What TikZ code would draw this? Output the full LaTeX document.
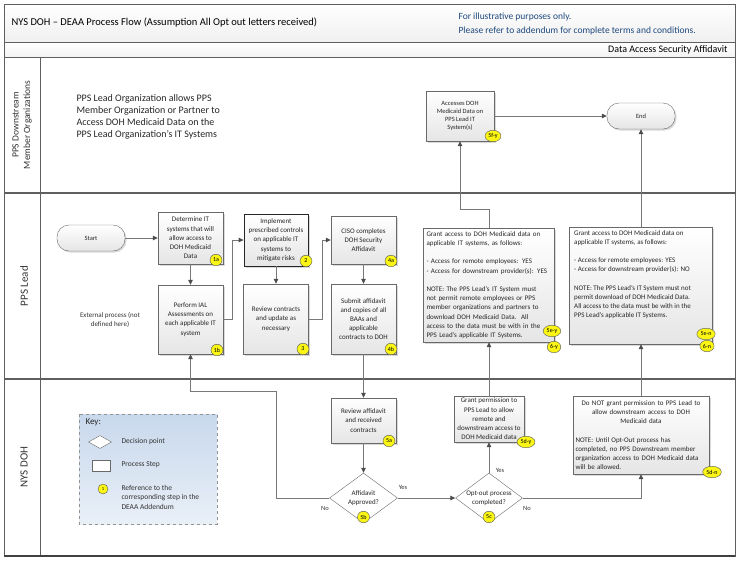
\documentclass[tikz,border=0pt]{standalone}
\usepackage{fontspec}
\setmainfont{Carlito}
\usetikzlibrary{shapes.geometric, arrows.meta, positioning, calc, shadows}
\definecolor{lanegray}{RGB}{95, 95, 95}
\definecolor{linegray}{RGB}{120, 120, 120}
\definecolor{boxgray}{RGB}{105, 105, 105}
\definecolor{notenavy}{RGB}{31, 73, 125}
\definecolor{keyblue}{RGB}{200, 216, 236}
\definecolor{badgeyellow}{RGB}{250, 245, 20}
\newcommand{\boxfont}{\fontsize{7}{9.2}\selectfont}
\tikzset{
  >=Triangle,
  flow/.style={-{Triangle[length=5pt, width=4.5pt, color=black!70]}, linegray, line width=0.8pt},
  procbox/.style={rectangle, draw=boxgray, top color=white, bottom color=gray!20, drop shadow={shadow xshift=1.5pt, shadow yshift=-1.5pt, opacity=0.3}, align=center, font=\boxfont, inner sep=1pt, text=black!85},
  notebox/.style={procbox, align=left, inner sep=3pt},
  terminal/.style={procbox, rounded corners=12pt, minimum width=68pt, minimum height=26pt, font=\fontsize{6.5}{8}\selectfont},
  decision/.style={diamond, draw=boxgray, fill=white, inner sep=0pt, minimum width=68pt, minimum height=50pt},
  decisiontext/.style={align=center, font=\boxfont, text=black!85},
  stepbadge/.style={ellipse, draw=black!65, fill=badgeyellow, inner xsep=1pt, inner ysep=0.3pt, minimum width=12pt, minimum height=11.5pt, font=\fontsize{6}{6}\selectfont},
  branch/.style={font=\fontsize{6.5}{8}\selectfont, text=black!80},
  lanelabel/.style={rotate=90, align=center, font=\fontsize{9.5}{11.5}\selectfont, text=black!80},
  keytext/.style={anchor=west, align=left, font=\fontsize{7.5}{9.5}\selectfont, text=black!80}
}
\begin{document}
\begin{tikzpicture}[x=1pt, y=-1pt]
    \useasboundingbox (0,0) rectangle (739,563);

    % Header bars
    \draw[lanegray, top color=white, bottom color=gray!12] (4,4) rectangle (735,42);
    \node[anchor=west, font=\fontsize{10.5}{12}\selectfont] (title) at (8,23) {NYS DOH – DEAA Process Flow (Assumption All Opt out letters received)};
    \node[anchor=west, align=left, text=notenavy, font=\fontsize{9.5}{14}\selectfont] (disclaimer) at (455,24) {For illustrative purposes only.\\Please refer to addendum for complete terms and conditions.};
    \draw[lanegray, top color=white, bottom color=gray!10] (4,42) rectangle (735,57);
    \node[anchor=east, font=\fontsize{10}{12}\selectfont] (formname) at (731,49.5) {Data Access Security Affidavit};

    % Swimlanes
    \draw[lanegray, line width=0.8pt] (4,57) rectangle (735,556);
    \draw[lanegray, line width=1.2pt] (4,193) -- (735,193);
    \draw[lanegray, line width=1.2pt] (4,379) -- (735,379);
    \draw[lanegray, line width=0.8pt] (40,57) -- (40,556);
    \draw[black!75, line width=2.5pt] (4,556) -- (735,556);
    \node[lanelabel] (lanedown) at (22,125) {PPS Downstream\\Member Organizations};
    \node[lanelabel, font=\fontsize{11}{13}\selectfont] (lanelead) at (24,286) {PPS Lead};
    \node[lanelabel, font=\fontsize{11}{13}\selectfont] (lanedoh) at (24,467) {NYS DOH};

    % PPS Downstream lane
    \node[anchor=west, align=left, font=\fontsize{10}{12}\selectfont, text=black!85] (lanenote) at (73,117) {PPS Lead Organization allows PPS\\Member Organization or Partner to\\Access DOH Medicaid Data on the\\PPS Lead Organization’s IT Systems};
    \node[procbox, minimum width=68pt, minimum height=50pt, font=\fontsize{6.5}{8}\selectfont] (accessdata) at (460,116) {Accesses DOH\\Medicaid Data on\\PPS Lead IT\\System(s)};
    \node[terminal] (endnode) at (641,116) {End};

    % PPS Lead lane
    \node[terminal] (start) at (91,238) {Start};
    \node[procbox, minimum width=65pt, minimum height=52pt] (determine) at (190.5,238) {Determine IT\\systems that will\\allow access to\\DOH Medicaid\\Data};
    \node[procbox, minimum width=65pt, minimum height=69pt] (perform) at (190.5,319.5) {Perform IAL\\Assessments on\\each applicable IT\\system};
    \node[branch, align=center, font=\boxfont] (external) at (110,320) {External process (not\\defined here)};
    \node[procbox, minimum width=64pt, minimum height=52pt, draw=black!85, line width=0.8pt] (implement) at (276,240) {Implement\\prescribed controls\\on applicable IT\\systems to\\mitigate risks};
    \node[procbox, minimum width=65pt, minimum height=70pt] (reviewctr) at (276,319) {Review contracts\\and update as\\necessary};
    \node[procbox, minimum width=65pt, minimum height=48pt] (ciso) at (363.5,240) {CISO completes\\DOH Security\\Affidavit};
    \node[procbox, minimum width=65pt, minimum height=70pt] (submit) at (363.5,319) {Submit affidavit\\and copies of all\\BAAs and\\applicable\\contracts to DOH};
    \node[notebox, minimum width=131pt, minimum height=114pt, text width=125pt] (grantyes) at (489,285) {Grant access to DOH Medicaid data on\\applicable IT systems, as follows:\\[9.2pt]- Access for remote employees: YES\\- Access for downstream provider(s): YES\\[9.2pt]NOTE: The PPS Lead’s IT System must\\not permit remote employees or PPS\\member organizations and partners to\\download DOH Medicaid Data.~~All\\access to the data must be with in the\\PPS Lead’s applicable IT Systems.};
    \node[procbox, minimum width=143pt, minimum height=117pt] (grantno) at (641,285.5) {};
    \node[anchor=north west, align=left, font=\boxfont, text=black!85, inner sep=0pt] (grantnotext) at (574,230) {Grant access to DOH Medicaid data on\\applicable IT systems, as follows:\\[9.2pt]- Access for remote employees: YES\\- Access for downstream provider(s): NO\\[9.2pt]NOTE: The PPS Lead’s IT System must not\\permit download of DOH Medicaid Data.\\All access to the data must be with in the\\PPS Lead’s applicable IT Systems.};

    % NYS DOH lane
    \node[procbox, minimum width=65pt, minimum height=45pt] (reviewaff) at (363.5,420.5) {Review affidavit\\and received\\contracts};
    \node[decision, label={[decisiontext]center:{Affidavit\\Approved?}}] (approved) at (363.5,498) {};
    \node[decision, minimum width=67pt, label={[decisiontext]center:{Opt-out process\\completed?}}] (optout) at (489,498) {};
    \node[procbox, minimum width=70pt, minimum height=46pt, inner sep=0pt] (grantperm) at (489,419) {Grant permission to\\PPS Lead to allow\\remote and\\downstream access to\\DOH Medicaid data};
    \node[procbox, minimum width=136pt, minimum height=78pt, align=left, text width=131pt, inner sep=2pt] (nogrant) at (641,435) {{\centering Do NOT grant permission to PPS Lead to\\allow downstream access to DOH\\Medicaid data\par}\vspace{9.2pt}\raggedright NOTE: Until Opt-Out process has\\completed, no PPS Downstream member\\organization access to DOH Medicaid data\\will be allowed.};

    % Key
    \draw[draw=gray!85, dashed, top color=keyblue, bottom color=keyblue!40!white] (79,414) rectangle (217,524);
    \node[anchor=west, font=\fontsize{9}{11}\selectfont, text=black!85] (keytitle) at (82,422) {Key:};
    \node[diamond, draw=boxgray, fill=white, inner sep=0pt, minimum width=23pt, minimum height=13pt] (keydiamond) at (100,442) {};
    \node[keytext] (keydecision) at (118,442) {Decision point};
    \node[rectangle, draw=boxgray, fill=white, minimum width=18pt, minimum height=11pt] (keyrect) at (101,466) {};
    \node[keytext] (keyprocess) at (118,465) {Process Step};
    \node[stepbadge, font=\fontsize{4.5}{5}\selectfont, minimum width=10pt, minimum height=10pt] (keybadge) at (103,489) {1};
    \node[keytext] (keyref) at (118,497) {Reference to the\\corresponding step in the\\DEAA Addendum};

    % Connectors
    \draw[flow] (start) -- (determine);
    \draw[flow] (determine) -- (perform);
    \draw[flow] (perform.east) -- ++(9,0) |- (implement.west);
    \draw[flow] (implement) -- (reviewctr);
    \draw[flow] (reviewctr.east) -- ++(14,0) |- (ciso.west);
    \draw[flow] (ciso) -- (submit);
    \draw[flow] (submit) -- (reviewaff);
    \draw[flow] (reviewaff) -- (approved);
    \coordinate (nobend) at (276,391);
    \draw[flow] (approved.west) -| (nobend) -| (perform.south);
    \draw[flow] (approved.east) -- (optout.west);
    \draw[flow] (optout.north) -- (grantperm.south);
    \draw[flow] (optout.east) -| (nogrant.south);
    \draw[flow] (grantperm.north) -- (grantyes.south);
    \draw[flow] (nogrant.north) -- (nogrant.north |- grantno.south);
    \draw[flow] (grantyes.north) -- ++(0,-18) -| (accessdata.south);
    \draw[flow] (nogrant.north |- grantno.north) -- (endnode.south);
    \draw[flow] (accessdata.east) -- (endnode.west);
    \node[branch] (noaff) at (325,508) {No};
    \node[branch] (yesaff) at (403,487) {Yes};
    \node[branch] (yesopt) at (500,470) {Yes};
    \node[branch] (noopt) at (527,508) {No};

    % Step references
    \node[stepbadge] (ref1a) at (216,260) {1a};
    \node[stepbadge] (ref1b) at (217,350) {1b};
    \node[stepbadge] (ref2) at (306,261) {2};
    \node[stepbadge] (ref3) at (303,349) {3};
    \node[stepbadge] (ref4a) at (391,261) {4a};
    \node[stepbadge] (ref4b) at (391,349) {4b};
    \node[stepbadge] (ref5a) at (389,441) {5a};
    \node[stepbadge] (ref5b) at (363.5,517) {5b};
    \node[stepbadge] (ref5c) at (489,517) {5c};
    \node[stepbadge] (ref5dy) at (526,442) {5d-y};
    \node[stepbadge] (ref5dn) at (712,472) {5d-n};
    \node[stepbadge] (ref5ey) at (552,331) {5e-y};
    \node[stepbadge] (ref6y) at (554,347) {6-y};
    \node[stepbadge] (ref5en) at (706,334) {5e-n};
    \node[stepbadge] (ref6n) at (707,346) {6-n};
    \node[stepbadge] (ref5fy) at (493,136) {5f-y};
\end{tikzpicture}
\end{document}
